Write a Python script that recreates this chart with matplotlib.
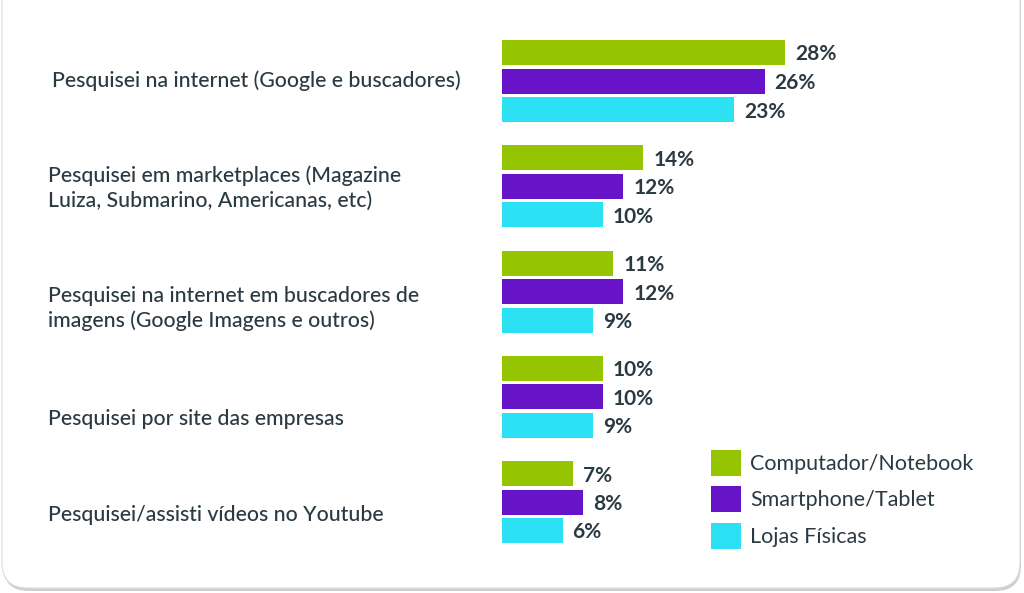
import matplotlib
matplotlib.use("Agg")
import matplotlib.pyplot as plt
from matplotlib.patches import FancyBboxPatch, Patch
from matplotlib.transforms import blended_transform_factory
import numpy as np

plt.rcParams['font.family'] = ['Lato', 'DejaVu Sans']

categories = [
    "Pesquisei na internet (Google e buscadores)",
    "Pesquisei em marketplaces (Magazine\nLuiza, Submarino, Americanas, etc)",
    "Pesquisei na internet em buscadores de\nimagens (Google Imagens e outros)",
    "Pesquisei por site das empresas",
    "Pesquisei/assisti vídeos no Youtube",
]
series_names = ["Computador/Notebook", "Smartphone/Tablet", "Lojas Físicas"]
computador = [28, 14, 11, 10, 7]
smartphone = [26, 12, 12, 10, 8]
lojas = [23, 10, 9, 9, 6]
colors = ["#95c400", "#6713c8", "#2de1f5"]
text_color = "#2b3a42"

# layout: vertical pixel offsets of category labels relative to group centre
label_offsets_px = [0, 2, 17, 22, 13]
label_left_px = [52, 48, 48, 48, 48]

W, H = 1024, 593
fig = plt.figure(figsize=(W / 100, H / 100), dpi=100)
fig.patch.set_facecolor("white")

# card background with subtle shadow
shadow = FancyBboxPatch((3 / W, 2 / H), 1018 / W, 620 / H,
                        boxstyle="round,pad=0,rounding_size=0.025",
                        transform=fig.transFigure, facecolor="#cfcfcf",
                        edgecolor="none", zorder=0, mutation_aspect=W / H)
fig.patches.append(shadow)
card = FancyBboxPatch((2 / W, 5 / H), 1018 / W, 620 / H,
                      boxstyle="round,pad=0,rounding_size=0.025",
                      transform=fig.transFigure, facecolor="white",
                      edgecolor="#dcdcdc", linewidth=0.8, zorder=0.5, mutation_aspect=W / H)
fig.patches.append(card)

px_per_unit = 10.1
left_px = 502
ax = fig.add_axes([left_px / W, 0, (W - left_px) / W, 1])
ax.set_zorder(2)
ax.set_xlim(0, (W - left_px) / px_per_unit)
pitch = 105.25
center0 = 81
ax.set_ylim((H - center0) / pitch, -center0 / pitch)
ax.axis("off")
ax.patch.set_alpha(0)

y = np.arange(len(categories))
off = 28.5 / pitch
bh = 25 / pitch
for k, (vals, col, name) in enumerate(zip([computador, smartphone, lojas], colors, series_names)):
    bars = ax.barh(y + (k - 1) * off, vals, height=bh, color=col, label=name, zorder=3)
    for b, v in zip(bars, vals):
        ax.text(b.get_width() + 10 / px_per_unit, b.get_y() + b.get_height() / 2 + 2 / pitch,
                f"{v}%", va="center", ha="left", fontsize=15, color=text_color,
                fontweight="bold", zorder=4)

tr = blended_transform_factory(fig.transFigure, ax.transData)
for i, c in enumerate(categories):
    ax.text(label_left_px[i] / W, i + label_offsets_px[i] / pitch, c, transform=tr,
            ha="left", va="center", fontsize=15.3,
            color=text_color, linespacing=1.3, fontweight="medium")

handles = [Patch(facecolor=c) for c in colors]
leg = fig.legend(handles, series_names, loc="upper left",
                 bbox_to_anchor=(711 / W, 1 - 450 / H), frameon=False,
                 fontsize=15.5, handlelength=1.4, handleheight=1.48,
                 handletextpad=0.42, labelspacing=0.48, borderpad=0, borderaxespad=0,
                 labelcolor=text_color)
leg.set_zorder(3)

fig.savefig("out.png", dpi=100, facecolor="white")
